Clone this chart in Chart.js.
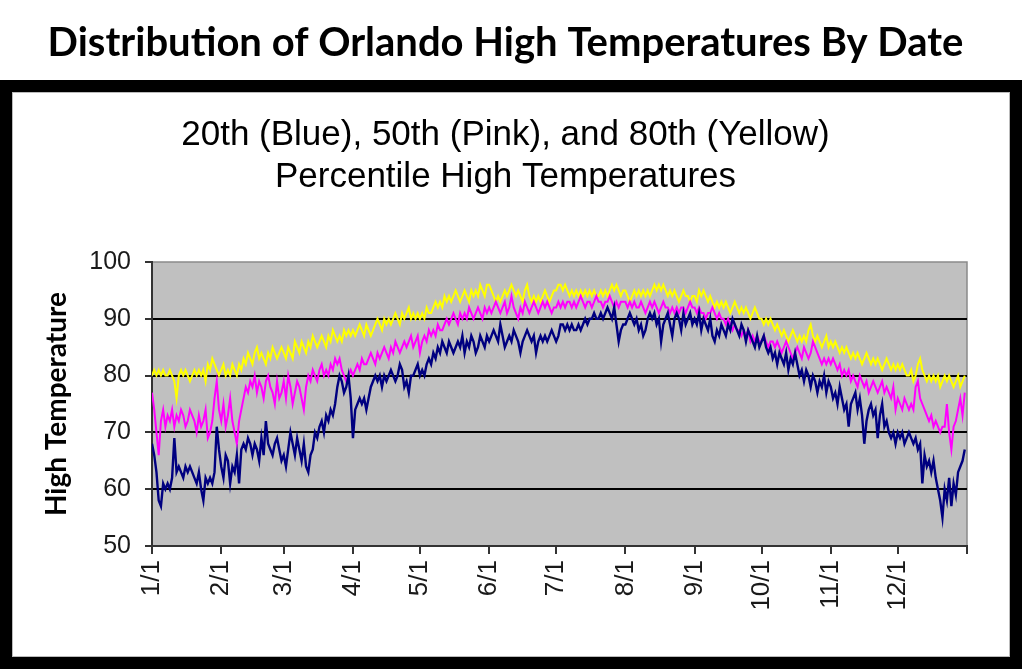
<!DOCTYPE html>
<html>
<head>
<meta charset="utf-8">
<script src="https://cdn.jsdelivr.net/npm/chart.js"></script>
<style>
  html, body { margin: 0; padding: 0; background: #fff; }
  #wrap { position: relative; width: 1024px; height: 672px; overflow: hidden; }
  #frame { position: absolute; left: 0; top: 80px; width: 1022px; height: 589px;
           box-sizing: border-box; border: 12px solid #000; background: #fff;
           box-shadow: inset 0 0 0 1px #bbb; }
  #c { position: absolute; left: 0; top: 0; }
</style>
</head>
<body>
<div id="wrap">
  <div id="frame"></div>
  <canvas id="c" width="1024" height="672"></canvas>
</div>
<script>
// ---- data ----
const mainTitle = "Distribution of Orlando High Temperatures By Date";
const chartTitle = ["20th (Blue), 50th (Pink), and 80th (Yellow)", "Percentile High Temperatures"];
const yAxisTitle = "High Temperature";
const tickLabels = ["1/1","2/1","3/1","4/1","5/1","6/1","7/1","8/1","9/1","10/1","11/1","12/1",""];
const monthStartDays = [0,31,59,90,120,151,181,212,243,273,304,334,365];
const yTicks = [50,60,70,80,90,100];

// 20th percentile (blue), one value per day, Jan 1 .. Dec 31
const p20 = [
 68,66,63,58,57,61,60,61,60,62,69,63,64,63,62,64,63,64,63,62,61,63,60,58,62,61,62,61,63,71,67,
 64,62,66,65,61,64,63,66,61,67,68,67,69,68,66,68,67,65,69,66,72,68,67,66,68,69,67,65,
 66,64,67,70,68,66,69,67,65,68,64,63,66,67,70,69,71,72,70,73,72,74,73,75,78,80,79,77,78,80,76,
 69,74,75,76,75,76,74,76,78,79,80,79,80,78,80,79,80,81,80,79,80,82,81,78,79,77,80,80,81,82,
 80,81,80,82,83,82,84,83,85,84,86,85,84,86,85,84,85,86,85,87,84,86,85,87,86,84,85,87,86,85,87,
 86,87,88,87,86,89,87,85,86,87,86,88,87,86,84,86,87,88,87,86,87,84,86,87,86,87,86,87,88,87,
 86,87,89,89,88,89,88,89,88,88,89,88,89,90,89,90,90,91,90,90,91,90,91,92,91,90,92,89,86,88,89,
 89,90,91,90,89,90,88,89,87,88,90,91,90,91,89,90,86,89,90,91,89,87,90,91,90,88,91,89,90,91,89,
 90,89,91,88,90,89,88,90,87,86,88,87,89,88,87,89,88,90,89,88,87,89,88,86,88,87,86,85,87,85,
 86,87,85,84,85,83,84,82,84,83,82,84,81,83,82,84,82,80,81,79,81,80,78,80,79,77,79,78,80,77,79,
 78,76,77,75,78,76,74,75,71,75,76,77,74,76,73,68,72,74,75,73,74,69,73,75,71,72,70,69,70,68,
 70,69,70,68,69,70,69,68,69,67,68,61,66,64,65,63,65,62,60,58,55,60,58,62,57,61,59,63,64,65,67
];

// 50th percentile (pink)
const p50 = [
 77,74,70,66,72,74,71,73,72,74,71,73,72,74,73,71,72,74,73,72,70,73,71,72,74,69,70,72,76,79,74,
 72,75,71,73,76,72,70,68,72,74,76,78,77,79,78,80,77,79,78,76,79,80,78,77,75,79,76,77,
 79,76,80,78,75,77,79,78,76,74,78,80,79,81,80,79,81,82,80,81,80,82,81,83,82,83,81,80,79,80,81,
 80,81,82,81,83,82,82,83,84,83,82,84,83,84,85,84,83,85,84,86,85,84,85,86,85,86,87,85,86,87,
 84,86,87,86,88,87,88,87,89,88,88,89,90,89,90,91,90,89,91,90,91,90,92,91,90,91,92,91,90,92,91,
 92,91,92,93,92,91,92,93,91,92,94,92,91,90,92,91,93,92,91,92,93,92,91,92,93,92,93,92,91,92,
 92,93,92,93,92,93,93,92,93,92,93,94,93,92,93,93,92,93,94,93,93,92,93,93,94,93,92,93,92,93,93,
 93,92,93,92,93,92,92,93,92,91,92,93,92,93,92,91,92,93,92,92,91,92,91,92,91,92,92,91,92,93,92,
 92,91,92,91,91,90,91,91,92,91,90,91,90,90,89,90,89,88,89,88,88,87,88,87,88,86,87,86,87,86,
 86,87,86,85,86,86,85,86,85,84,85,86,85,84,83,84,85,84,83,85,84,83,84,86,85,84,83,82,83,82,83,
 82,83,82,81,82,80,81,80,81,79,80,79,78,80,79,78,79,77,78,79,78,77,78,79,77,78,77,76,78,74,
 76,75,74,76,75,74,75,74,78,79,76,75,74,73,72,73,71,72,71,70,71,71,75,70,67,71,72,74,76,73,77
];

// 80th percentile (yellow)
const p80 = [
 80,81,80,81,80,81,80,80,81,80,79,76,80,81,80,81,80,79,80,81,80,81,80,81,79,82,81,83,82,81,80,
 81,82,80,81,80,82,81,80,82,81,83,82,84,83,82,84,85,83,84,83,82,84,83,85,84,83,84,85,
 84,83,85,84,83,86,85,84,86,85,84,86,85,87,86,85,86,87,86,85,87,86,88,87,86,87,86,88,87,88,87,
 88,87,88,89,88,87,89,88,87,88,89,90,89,88,90,89,90,89,90,91,90,89,91,90,91,92,90,91,90,91,
 90,91,90,92,91,91,92,93,92,93,92,94,93,94,93,94,95,94,93,94,95,94,93,95,94,95,94,96,95,94,96,
 96,95,94,93,94,93,94,95,94,95,96,95,94,95,94,93,95,96,94,93,94,93,94,93,94,95,94,93,94,95,
 95,96,96,95,96,95,94,95,94,95,94,95,94,95,94,95,94,95,94,94,95,94,95,94,95,96,95,96,95,94,95,
 95,94,93,94,95,94,95,94,95,94,95,94,95,96,95,96,95,96,95,94,95,94,95,94,93,94,95,94,94,93,94,
 94,93,95,94,95,94,93,94,93,92,93,92,93,92,93,92,91,92,93,92,91,92,91,92,91,90,91,92,91,90,
 90,89,90,89,90,89,88,89,88,87,88,87,86,87,88,87,86,87,86,87,86,88,89,87,86,87,86,85,86,87,85,
 86,85,86,85,84,85,84,85,84,83,84,83,84,83,82,83,84,83,82,83,82,83,82,81,82,83,82,81,82,81,
 82,81,82,81,80,80,81,79,80,82,83,81,80,79,80,79,80,79,80,78,79,80,79,80,79,78,79,80,78,79,80
];

// ---- chart ----
const toPoints = arr => arr.map((v, i) => ({ x: i, y: v }));
const innerGrid = [60, 70, 80, 90];

const plotBg = {
  id: 'plotBg',
  beforeDraw(chart) {
    const { ctx, chartArea: a } = chart;
    ctx.save();
    ctx.fillStyle = '#c0c0c0';
    ctx.fillRect(a.left, a.top, a.right - a.left, a.bottom - a.top);
    ctx.strokeStyle = '#8a8a8a';
    ctx.lineWidth = 1.5;
    ctx.strokeRect(a.left, a.top, a.right - a.left, a.bottom - a.top);
    ctx.restore();
  }
};

new Chart(document.getElementById('c'), {
  type: 'line',
  data: {
    datasets: [
      { label: '20th', data: toPoints(p20), borderColor: '#000080', borderWidth: 2.4 },
      { label: '50th', data: toPoints(p50), borderColor: '#ff00ff', borderWidth: 2 },
      { label: '80th', data: toPoints(p80), borderColor: '#ffff00', borderWidth: 2 }
    ]
  },
  options: {
    responsive: false,
    animation: false,
    devicePixelRatio: 1,
    elements: { point: { radius: 0 }, line: { tension: 0 } },
    layout: { padding: { left: 44, right: 57, top: 0, bottom: 46 } },
    plugins: {
      legend: { display: false },
      tooltip: { enabled: false },
      title: {
        display: true, text: mainTitle, color: '#000',
        font: { family: 'Lato', size: 40, weight: 'bold', lineHeight: 1.2 },
        padding: { top: 19, bottom: 0 }
      },
      subtitle: {
        display: true, text: chartTitle, color: '#000',
        font: { family: 'Liberation Sans', size: 35, weight: 'normal', lineHeight: 1.2 },
        padding: { top: 47, bottom: 64 }
      }
    },
    scales: {
      x: {
        type: 'linear', min: 0, max: 365,
        afterBuildTicks: axis => { axis.ticks = monthStartDays.map(v => ({ value: v })); },
        afterFit: s => { s.height = 80; },
        ticks: {
          autoSkip: false, maxRotation: 90, minRotation: 90, padding: 6,
          color: '#1a1a1a', font: { family: 'Liberation Sans', size: 26 },
          callback: (v, i) => tickLabels[i]
        },
        grid: { drawOnChartArea: false, drawTicks: true, tickLength: 8, color: '#333', lineWidth: 2 },
        border: { display: true, color: '#333', width: 2 }
      },
      y: {
        type: 'linear', min: 50, max: 100,
        afterBuildTicks: axis => { axis.ticks = yTicks.map(v => ({ value: v })); },
        afterFit: s => { s.width = 108; },
        ticks: {
          padding: 14, color: '#1a1a1a', font: { family: 'Liberation Sans', size: 25 }
        },
        grid: {
          drawTicks: true, tickLength: 7,
          color: c => innerGrid.includes(c.tick && c.tick.value) ? '#000' : 'rgba(0,0,0,0)',
          lineWidth: 2, tickColor: '#333', tickWidth: 2
        },
        border: { display: true, color: '#333', width: 2 },
        title: {
          display: true, text: yAxisTitle, color: '#000',
          font: { family: 'Lato', size: 28, weight: 'bold', lineHeight: 1.2 },
          padding: { top: -4, bottom: 0 }
        }
      }
    }
  },
  plugins: [plotBg]
});
</script>
</body>
</html>
